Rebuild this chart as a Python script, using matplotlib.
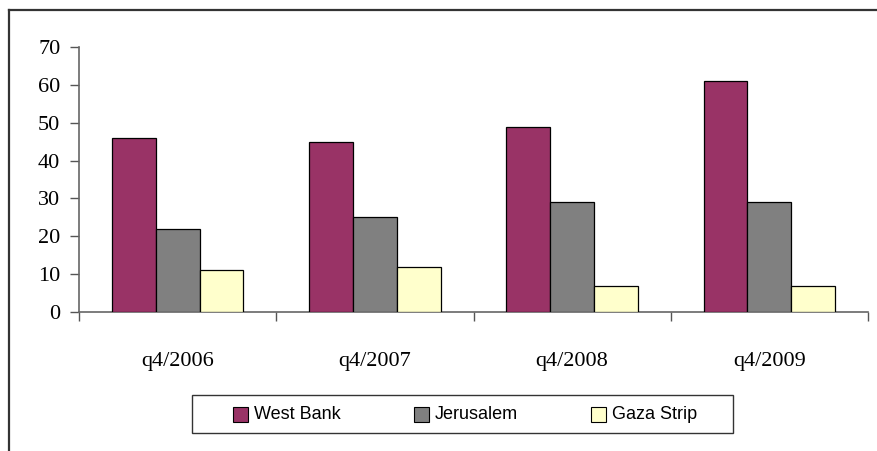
import matplotlib.pyplot as plt
import numpy as np
from matplotlib.patches import Rectangle
from matplotlib.lines import Line2D

# Quarterly figures by region
quarters = ["q4/2006", "q4/2007", "q4/2008", "q4/2009"]
west_bank = [46, 45, 49, 61]
jerusalem = [22, 25, 29, 29]
gaza_strip = [11, 12, 7, 7]

series = [("West Bank", west_bank, "#993366"),
          ("Jerusalem", jerusalem, "#808080"),
          ("Gaza Strip", gaza_strip, "#FFFFCC")]

W, H = 877, 451
fig = plt.figure(figsize=(W / 100, H / 100), dpi=100)

# plot area in pixel coordinates
left, right, top, bottom = 79, 868, 47, 312
ax = fig.add_axes([left / W, 1 - bottom / H, (right - left) / W, (bottom - top) / H])

x = np.arange(len(quarters))
bw = 0.222
for i, (name, vals, col) in enumerate(series):
    ax.bar(x + (i - 1) * bw, vals, width=bw, color=col,
           edgecolor="black", linewidth=0.9, label=name, zorder=3)

ax.set_xlim(-0.5, len(quarters) - 0.5)
ax.set_ylim(0, 70)
ax.set_yticks(range(0, 71, 10))

ax.set_xticks(x)
ax.set_xticklabels(quarters)
ax.set_xticks(np.arange(-0.5, len(quarters)), minor=True)
ax.tick_params(axis="x", which="major", length=0, pad=29)
ax.tick_params(axis="x", which="minor", length=6.5, width=1, color="#555555")
ax.tick_params(axis="y", length=6.5, width=1, color="#555555", pad=7)

for lab in ax.get_xticklabels() + ax.get_yticklabels():
    lab.set_fontfamily("Liberation Serif")
    lab.set_fontsize(16)
    lab.set_color("black")

for s in ("top", "right"):
    ax.spines[s].set_visible(False)
for s in ("left", "bottom"):
    ax.spines[s].set_color("#666666")
    ax.spines[s].set_linewidth(1.2)

# outer chart frame (top and left edges)
fig.add_artist(Line2D([9 / W, 1], [1 - 10 / H, 1 - 10 / H], color="#333333", linewidth=1.6))
fig.add_artist(Line2D([9 / W, 9 / W], [0, 1 - 10 / H], color="#333333", linewidth=1.6))

# legend box
lx0, lx1, ly0, ly1 = 192, 733, 395, 433
fig.add_artist(Rectangle((lx0 / W, 1 - ly1 / H), (lx1 - lx0) / W, (ly1 - ly0) / H,
                         facecolor="white", edgecolor="#333333", linewidth=1.0))
key_x = [233, 414, 591]
ky = 414.5
for (name, vals, col), kx in zip(series, key_x):
    fig.add_artist(Rectangle((kx / W, 1 - (ky + 7.5) / H), 15 / W, 15 / H,
                             facecolor=col, edgecolor="black", linewidth=0.8))
    fig.text((kx + 21) / W, 1 - ky / H, name, fontsize=13,
             fontfamily="Liberation Sans", va="center", ha="left")

fig.savefig("out.png", dpi=100)
